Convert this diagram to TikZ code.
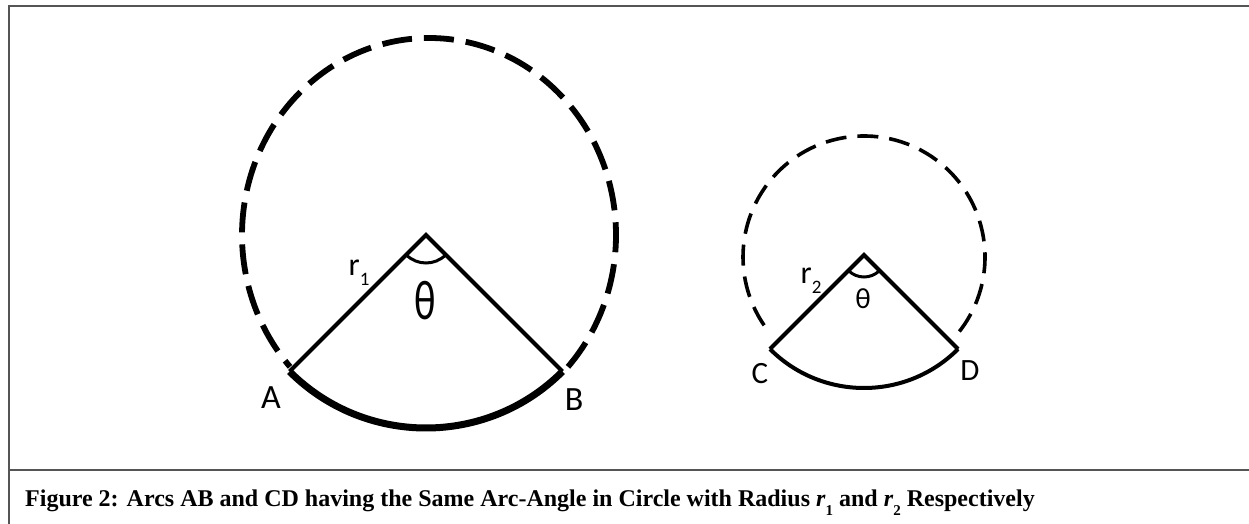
\documentclass[tikz,border=0pt]{standalone}
\usepackage{fontspec}
\setmainfont{Liberation Serif}
\newfontfamily\labelfont{Carlito}
\usepackage{graphicx}
\usepackage{xcolor}
\definecolor{framegray}{HTML}{555555}
\usepackage{tikz}
\usetikzlibrary{calc}
\tikzstyle{bigdashed} = [
  dash pattern=on 30pt off 12pt, line width=5.8pt, color=black
]
\tikzstyle{smalldashed} = [
  dash pattern=on 21pt off 11pt, line width=3.6pt, color=black
]
\tikzstyle{radiusline} = [
  line width=4pt, line join=miter, color=black
]
\tikzstyle{boldarc} = [
  line width=7pt, color=black
]
\tikzstyle{anglearc} = [
  line width=3pt, color=black
]
\tikzstyle{pointlabel} = [
  inner sep=0pt, font=\labelfont\fontsize{34}{34}\selectfont
]
\tikzstyle{framerule} = [
  line width=2pt, color=framegray
]
\newcommand{\radlabel}[1]{r\raisebox{-0.3em}{\fontsize{19}{19}\selectfont #1}}

\begin{document}
\begin{tikzpicture}[x=1pt, y=1pt]
  \useasboundingbox (0,0) rectangle (1249,524);

  % ── Frame ─────────────────────────────────────────────
  \coordinate (framebl) at (9,0);
  \coordinate (frametl) at (9,518);
  \coordinate (frametr) at (1249,518);
  \coordinate (sepl) at (9,54);
  \coordinate (sepr) at (1249,54);
  \draw[framerule] (framebl) -- (frametl) -- (frametr);
  \draw[framerule] (sepl) -- (sepr);

  % ── Large circle ──────────────────────────────────────
  \coordinate (centre1) at (426,289);
  \coordinate (ring1) at (429,289);
  \coordinate (A) at ($(centre1)+(225:193pt)$);
  \coordinate (B) at ($(centre1)+(315:193pt)$);
  \draw[bigdashed] ($(ring1)+(-42:187pt and 197pt)$)
    arc[start angle=-42, end angle=222, x radius=187pt, y radius=197pt];
  \draw[radiusline] (A) -- (centre1) -- (B);
  \draw[boldarc] (A) arc[start angle=225, end angle=315, radius=193pt];
  \draw[anglearc] ($(centre1)+(225:28pt)$)
    arc[start angle=225, end angle=315, radius=28pt];

  \node[pointlabel] (labelA) at (271,126) {A};
  \node[pointlabel] (labelB) at (574,124) {B};
  \node[pointlabel, font=\labelfont\fontsize{32}{32}\selectfont]
    (labelr1) at (359,251) {\radlabel{1}};
  \node[pointlabel] (theta1) at (425,223)
    {\scalebox{0.72}[1]{\fontsize{56}{56}\selectfont θ}};

  % ── Small circle ──────────────────────────────────────
  \coordinate (centre2) at (864,269);
  \coordinate (ring2) at (864,267);
  \coordinate (C) at ($(centre2)+(225:133pt)$);
  \coordinate (D) at ($(centre2)+(315:133pt)$);
  \draw[smalldashed] ($(ring2)+(-38:121pt)$)
    arc[start angle=-38, end angle=218, radius=121pt];
  \draw[radiusline] (C) -- (centre2) -- (D);
  \draw[radiusline] (C) arc[start angle=225, end angle=315, radius=133pt];
  \draw[anglearc] ($(centre2)+(225:22pt)$)
    arc[start angle=225, end angle=315, radius=22pt];

  \node[pointlabel, font=\labelfont\fontsize{31}{31}\selectfont]
    (labelC) at (760,150) {C};
  \node[pointlabel, font=\labelfont\fontsize{31}{31}\selectfont]
    (labelD) at (970,153) {D};
  \node[pointlabel, font=\labelfont\fontsize{32}{32}\selectfont]
    (labelr2) at (811,243) {\radlabel{2}};
  \node[pointlabel, font=\labelfont\fontsize{29}{29}\selectfont]
    (theta2) at (863,225) {θ};

  % ── Caption ───────────────────────────────────────────
  \node[anchor=base west, inner sep=0pt,
        font=\bfseries\fontsize{24}{24}\selectfont]
    (caption) at (25,17)
    {Figure 2: Arcs AB and CD having the Same Arc-Angle in Circle with Radius
     \textit{r}\raisebox{-0.35em}{\fontsize{15}{15}\selectfont 1} and
     \textit{r}\raisebox{-0.35em}{\fontsize{15}{15}\selectfont 2} Respectively};

\end{tikzpicture}
\end{document}
